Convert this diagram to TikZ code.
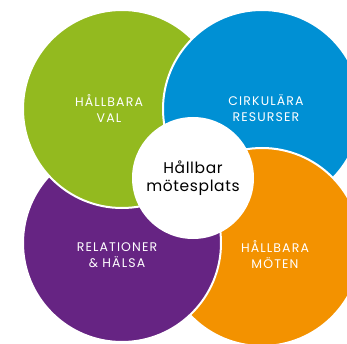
\documentclass[tikz,border=0pt]{standalone}
\usepackage{fontspec}
\setmainfont{Poppins}
\usetikzlibrary{positioning}
\definecolor{valgreen}{HTML}{93BA1F}
\definecolor{resursblue}{HTML}{0090D4}
\definecolor{halsapurple}{HTML}{662483}
\definecolor{motenorange}{HTML}{F39200}
\begin{document}
\begin{tikzpicture}[x=1pt,y=-1pt,
  disc/.style={circle,draw=white,line width=2pt,minimum size=198pt,inner sep=0pt},
  lbl/.style={text=white,font=\fontsize{12.5}{16}\selectfont\addfontfeature{LetterSpace=9},align=center}]

\useasboundingbox (0,0) rectangle (347,344);

% the four circles, drawn round the clock
\node[disc,fill=halsapurple]   (halsa)    at (122,243)  {};
\node[disc,fill=valgreen]      (val)      at (122,109)  {};
\node[disc,fill=resursblue]    (resurser) at (262,109)  {};
\node[disc,fill=motenorange]   (moten)    at (262,247)  {};
% purple lies over orange again
\begin{scope}
  \clip (150,206) rectangle (347,344);
  \node[disc,fill=halsapurple] (halsatop) at (halsa) {};
\end{scope}

\node[circle,fill=white,minimum size=122pt,inner sep=0pt,align=center,
      font=\fontsize{15.5}{18}\selectfont\addfontfeature{LetterSpace=4}] (plats) at (193,178) {Hållbar\\mötesplats};

\node[lbl] (valtxt)      at (109,108) {HÅLLBARA\\VAL};
\node[lbl] (resurstxt)   at (266,108) {CIRKULÄRA\\RESURSER};
\node[lbl] (halsatxt)    at (117,255) {RELATIONER\\\& HÄLSA};
\node[lbl] (motentxt)    at (275,255) {HÅLLBARA\\MÖTEN};

\end{tikzpicture}
\end{document}
